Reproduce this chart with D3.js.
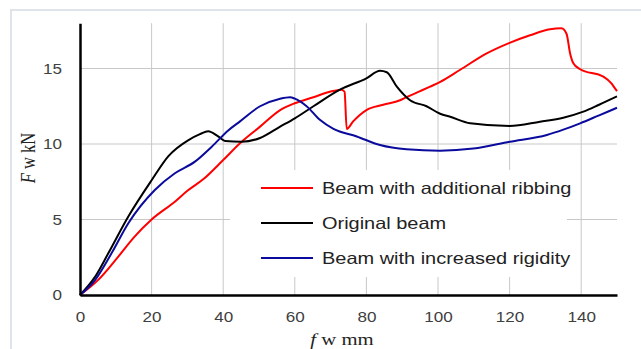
<!DOCTYPE html>
<html>
<head>
<meta charset="utf-8">
<script src="https://cdn.jsdelivr.net/npm/d3@7"></script>
<style>
  html, body { margin: 0; padding: 0; background: #fff; }
  svg { display: block; }
</style>
</head>
<body>
<div id="chart"></div>
<script>
// ---- data ----
var xTicks = [0, 20, 40, 60, 80, 100, 120, 140];
var yTicks = [0, 5, 10, 15];
var seriesNames = ['Beam with additional ribbing', 'Original beam', 'Beam with increased rigidity'];
var seriesColors = ['#ff0000', '#000000', '#0a0a9c'];

var ribX = [0, 5.1, 10.7, 15, 20, 26.5, 30, 34.4, 40, 44.7, 50.3, 55.9, 60, 65.2, 69.8, 73.1, 73.9, 74.5, 76.3, 80, 84.7, 89.4, 91.2, 95, 97.8, 100.5, 106.1, 113.6, 120, 125.7, 131.3, 134.5, 135.9, 136.9, 137.8, 139.7, 146.2, 148.5, 149.4, 150];
var ribY = [0, 1.0, 2.54, 3.8, 5.0, 6.18, 6.9, 7.66, 8.94, 10.05, 11.15, 12.25, 12.7, 13.1, 13.46, 13.6, 13.46, 11.0, 11.5, 12.25, 12.6, 12.9, 13.1, 13.5, 13.8, 14.1, 14.9, 16.0, 16.7, 17.2, 17.6, 17.66, 17.3, 16.0, 15.35, 14.95, 14.46, 14.0, 13.7, 13.5];

var origX = [0, 4.2, 7.9, 13.5, 20, 24.7, 30.3, 33.5, 35.8, 38.6, 40.5, 45.2, 50.3, 55.9, 60, 65.2, 72.6, 80, 83.8, 85.7, 88.5, 92.2, 96.8, 100.6, 103.4, 109, 120, 128.5, 135, 140.6, 145, 150];
var origY = [0, 1.2, 2.76, 5.2, 7.6, 9.2, 10.26, 10.65, 10.85, 10.5, 10.2, 10.15, 10.4, 11.15, 11.7, 12.5, 13.6, 14.35, 14.85, 14.75, 13.8, 12.9, 12.5, 12.0, 11.8, 11.37, 11.19, 11.48, 11.74, 12.14, 12.6, 13.15];

var rigX = [0, 4.2, 8.8, 13.5, 20.9, 26.5, 32.1, 36.8, 41.4, 44.7, 50.3, 55.9, 58.7, 60, 63.3, 67, 70.8, 77.3, 83.8, 91.2, 100.6, 109.9, 120, 130.4, 135, 139.7, 145, 150];
var rigY = [0, 0.99, 2.76, 4.75, 6.95, 8.06, 8.83, 9.82, 10.9, 11.5, 12.5, 13.0, 13.1, 13.0, 12.5, 11.6, 11.0, 10.5, 9.93, 9.65, 9.56, 9.7, 10.15, 10.6, 10.95, 11.37, 11.9, 12.4];

var seriesX = [ribX, origX, rigX];
var seriesY = [ribY, origY, rigY];

// ---- layout ----
var W = 641, H = 349;
var svg = d3.select('#chart').append('svg').attr('width', W).attr('height', H);

// outer frame
svg.append('rect').attr('x', 11).attr('y', 10).attr('width', 700).attr('height', 400)
  .attr('fill', 'none').attr('stroke', '#dfe3ea').attr('stroke-width', 2);

var x = d3.scaleLinear().domain([0, 150]).range([80, 617]);
var y = d3.scaleLinear().domain([0, 18]).range([295, 23.2]);
var SX = 1.22; // the reference is stretched horizontally

// grid lines
svg.append('g').selectAll('line.vg').data(xTicks.slice(1)).enter().append('line')
  .attr('x1', function(d) { return x(d); }).attr('x2', function(d) { return x(d); })
  .attr('y1', y(0)).attr('y2', y(18))
  .attr('stroke', '#c8c8c8').attr('stroke-width', 1);
svg.append('g').selectAll('line.hg').data(yTicks.slice(1)).enter().append('line')
  .attr('x1', x(0)).attr('x2', x(150))
  .attr('y1', function(d) { return y(d); }).attr('y2', function(d) { return y(d); })
  .attr('stroke', '#c8c8c8').attr('stroke-width', 1);

// curves
var line = d3.line().curve(d3.curveMonotoneX)
  .x(function(d) { return x(d[0]); }).y(function(d) { return y(d[1]); });
seriesNames.forEach(function(name, i) {
  var pts = seriesX[i].map(function(v, j) { return [v, seriesY[i][j]]; });
  svg.append('path').datum(pts).attr('d', line)
    .attr('fill', 'none').attr('stroke', seriesColors[i])
    .attr('stroke-width', 2).attr('stroke-linejoin', 'round');
});

// axes
var xAxis = svg.append('g').attr('transform', 'translate(0,' + y(0) + ')')
  .call(d3.axisBottom(x).tickValues(xTicks).tickSize(0).tickPadding(0));
xAxis.select('.domain').attr('stroke', '#000').attr('stroke-width', 2.5);
xAxis.selectAll('text').attr('y', 0).attr('dy', 0)
  .attr('transform', 'translate(0,27) scale(' + SX + ',1)')
  .attr('font-family', 'Liberation Sans, Arial, sans-serif').attr('font-size', '14px').attr('fill', '#404040');

var yAxis = svg.append('g').attr('transform', 'translate(' + x(0) + ',0)')
  .call(d3.axisLeft(y).tickValues(yTicks).tickSize(0).tickPadding(0));
yAxis.select('.domain').attr('stroke', '#000').attr('stroke-width', 2.5);
yAxis.selectAll('text').attr('x', 0).attr('dy', '0.35em')
  .attr('transform', 'translate(-18,0) scale(' + SX + ',1)')
  .attr('font-family', 'Liberation Sans, Arial, sans-serif').attr('font-size', '14px').attr('fill', '#404040');

// axis titles
var xt = svg.append('text').attr('transform', 'translate(342,345) scale(' + SX + ',1)')
  .attr('text-anchor', 'middle').attr('font-family', 'Liberation Serif, Times New Roman, serif')
  .attr('font-size', '17px').attr('fill', '#222');
xt.append('tspan').attr('font-style', 'italic').text('f');
xt.append('tspan').text(' w mm');

var yt = svg.append('text').attr('transform', 'translate(35,158) rotate(-90) scale(1,' + SX + ')')
  .attr('text-anchor', 'middle').attr('font-family', 'Liberation Serif, Times New Roman, serif')
  .attr('font-size', '16.5px').attr('fill', '#222');
yt.append('tspan').attr('font-style', 'italic').text('F');
yt.append('tspan').text(' w kN');

// legend
var legend = svg.append('g');
legend.append('rect').attr('x', 230).attr('y', 170).attr('width', 337).attr('height', 107).attr('fill', '#fff');
var rowY = [188, 223, 258];
seriesNames.forEach(function(name, i) {
  legend.append('line').attr('x1', 261).attr('x2', 313).attr('y1', rowY[i]).attr('y2', rowY[i])
    .attr('stroke', seriesColors[i]).attr('stroke-width', 2);
  legend.append('text').attr('transform', 'translate(322,' + (rowY[i] + 6) + ') scale(1.21,1)')
    .attr('font-family', 'Liberation Sans, Arial, sans-serif').attr('font-size', '16.5px')
    .attr('fill', '#222').text(name);
});
</script>
</body>
</html>
